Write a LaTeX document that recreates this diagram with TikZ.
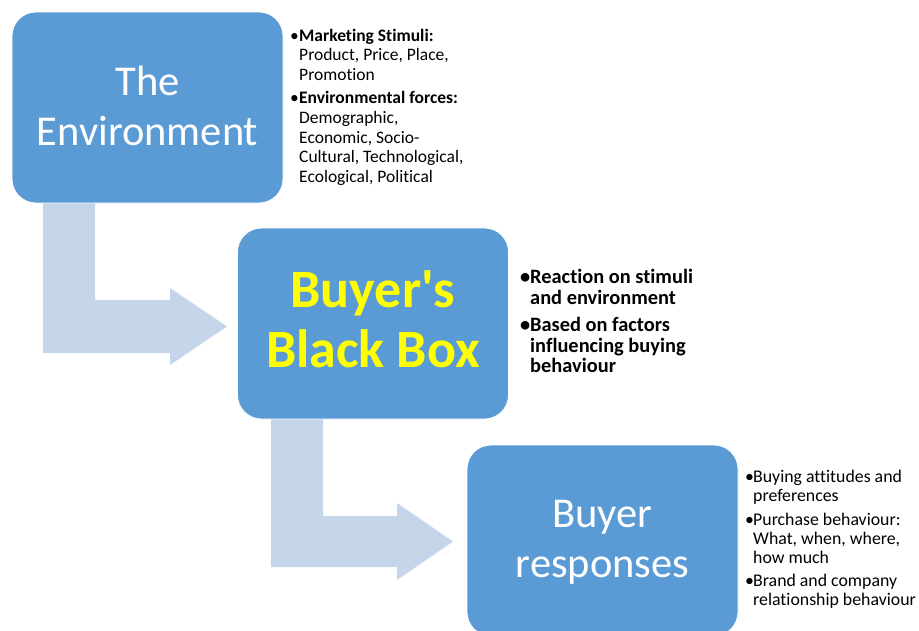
\documentclass[tikz,border=0pt]{standalone}
\usepackage{fontspec}
\usepackage{array}
\newfontfamily\cfont{Carlito}[Ligatures=CommonOff]
\setmainfont{Carlito}
\definecolor{boxblue}{HTML}{5B9BD5}
\definecolor{arrowblue}{HTML}{C5D5EA}
\definecolor{titleyellow}{HTML}{FFFF00}
\tikzset{
  box/.style={draw=white, line width=0.8pt, fill=boxblue, rounded corners=24pt,
    minimum width=271pt, minimum height=191pt, inner sep=0pt},
  plaintitle/.style={align=center, inner sep=0pt, text=white, font=\cfont\fontsize{42.5}{50}\selectfont},
  boldtitle/.style={align=center, inner sep=0pt, text=titleyellow, font=\cfont\bfseries\fontsize{54}{60}\selectfont},
  bentarrow/.style={fill=arrowblue, draw=none},
  list/.style={anchor=base west, inner sep=0pt, text=black},
}
\begin{document}
\begin{tikzpicture}[x=1pt, y=-1pt]
\useasboundingbox (0,0) rectangle (919,630);
\clip (0,0) rectangle (919,630);
% bent arrows
\fill[bentarrow] (43,200) -- (95,200) -- (95,300) -- (170,300) -- (170,288) -- (227,326.5)
  -- (170,365) -- (170,353) -- (43,353) -- cycle;
\fill[bentarrow] (271,415) -- (323,415) -- (323,516) -- (397,516) -- (397,503) -- (453,541.5)
  -- (397,580) -- (397,567) -- (271,567) -- cycle;
% boxes
\node[box] (env) at (147.5,107.5) {};
\node[box] (bbb) at (373,323.5) {};
\node[box] (resp) at (602.5,540.5) {};
% box titles
\node[plaintitle] (envtitle) at ([yshift=2pt]env.center) {The\\Environment};
\node[boldtitle] (bbbtitle) at ([yshift=4.5pt]bbb.center) {Buyer's\\Black Box};
\node[plaintitle] (resptitle) at ([yshift=-1.5pt]resp.center) {Buyer\\responses};
% lists
\node[list, font=\cfont\fontsize{17.5}{19.7}\selectfont] (envlist) at (290,41) {%
  \begin{tabular}[t]{@{}w{l}{9pt}@{}l@{}}
  •&\textbf{Marketing Stimuli:}\\
   &Product, Price, Place,\\
   &Promotion\\[3.5pt]
  •&\textbf{Environmental forces:}\\
   &Demographic,\\
   &Economic, Socio-\\
   &Cultural, Technological,\\
   &Ecological, Political
  \end{tabular}};
\node[list, font=\cfont\bfseries\fontsize{20.4}{20.5}\selectfont] (bbblist) at (520,283.5) {%
  \begin{tabular}[t]{@{}w{l}{10pt}@{}l@{}}
  •&Reaction on stimuli\\
   &and environment\\[7pt]
  •&Based on factors\\
   &influencing buying\\
   &behaviour
  \end{tabular}};
\node[list, font=\cfont\fontsize{17.8}{19}\selectfont] (resplist) at (745,482.5) {%
  \begin{tabular}[t]{@{}w{l}{8pt}@{}l@{}}
  •&Buying attitudes and\\
   &preferences\\[4.5pt]
  •&Purchase behaviour:\\
   &What, when, where,\\
   &how much\\[4.5pt]
  •&Brand and company\\
   &relationship behaviour
  \end{tabular}};
\end{tikzpicture}
\end{document}
